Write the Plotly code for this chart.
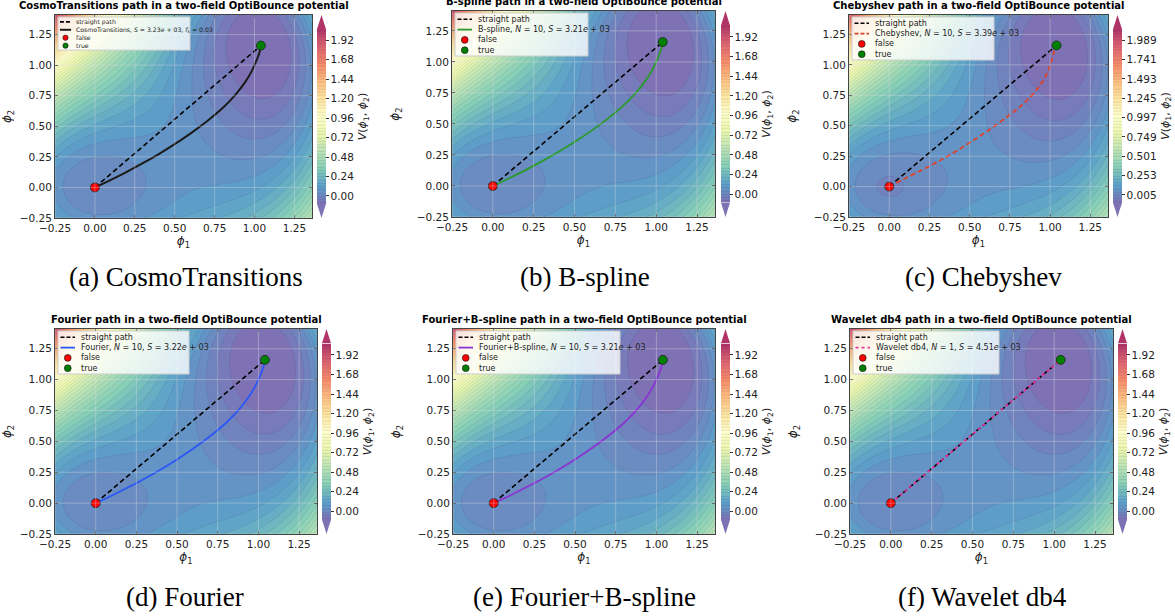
import numpy as np
import plotly.graph_objects as go

FIG_W, FIG_H = 1175, 616

# Two-field potential V(phi1, phi2) = (phi1^2 + phi2^2) * (A (phi1 - 1)^2 + B (phi2 - 1)^2 - DELTA)
A_COEF = 0.624
B_COEF = 0.174
DELTA = 0.0637

PHI1_LIM = [-0.25, 1.36]
PHI2_LIM = [-0.25, 1.41]

phi1_grid = np.linspace(PHI1_LIM[0], PHI1_LIM[1], 162)
phi2_grid = np.linspace(PHI2_LIM[0], PHI2_LIM[1], 167)
P1, P2 = np.meshgrid(phi1_grid, phi2_grid)
V = (P1 ** 2 + P2 ** 2) * (A_COEF * (P1 - 1) ** 2 + B_COEF * (P2 - 1) ** 2 - DELTA)
V = np.round(V, 4)

false_vacuum = [0.0, 0.0]
true_vacuum = [1.04, 1.16]

straight_phi1 = [0.0, 1.04]
straight_phi2 = [0.0, 1.16]

# optimised tunnelling paths (phi1, phi2)
cosmo_phi1 = [0.00, 0.10, 0.20, 0.30, 0.40, 0.50, 0.60, 0.70, 0.80, 0.88, 0.94, 0.98, 1.01, 1.03, 1.04]
cosmo_phi2 = [0.00, 0.062, 0.128, 0.198, 0.273, 0.354, 0.442, 0.539, 0.649, 0.757, 0.859, 0.945, 1.03, 1.10, 1.16]

bspline_phi1 = [0.00, 0.10, 0.20, 0.30, 0.40, 0.50, 0.60, 0.70, 0.80, 0.88, 0.94, 0.98, 1.01, 1.03, 1.04]
bspline_phi2 = [0.00, 0.062, 0.128, 0.198, 0.273, 0.354, 0.442, 0.539, 0.649, 0.757, 0.859, 0.945, 1.03, 1.10, 1.16]

cheb_phi1 = [0.00, 0.08, 0.25, 0.37, 0.50, 0.62, 0.75, 0.85, 0.93, 0.985, 1.01, 1.025, 1.04]
cheb_phi2 = [0.00, 0.055, 0.168, 0.255, 0.36, 0.465, 0.59, 0.70, 0.82, 0.94, 1.04, 1.11, 1.16]

fourier_phi1 = [0.00, 0.10, 0.20, 0.30, 0.40, 0.50, 0.60, 0.70, 0.80, 0.88, 0.94, 0.98, 1.01, 1.03, 1.04]
fourier_phi2 = [0.00, 0.062, 0.128, 0.198, 0.273, 0.354, 0.442, 0.539, 0.649, 0.757, 0.859, 0.945, 1.03, 1.10, 1.16]

fbspline_phi1 = [0.00, 0.10, 0.20, 0.30, 0.40, 0.50, 0.60, 0.70, 0.80, 0.88, 0.94, 0.98, 1.01, 1.03, 1.04]
fbspline_phi2 = [0.00, 0.062, 0.128, 0.198, 0.273, 0.354, 0.442, 0.539, 0.649, 0.757, 0.859, 0.945, 1.03, 1.10, 1.16]

wavelet_phi1 = [0.00, 1.04]
wavelet_phi2 = [0.00, 1.16]

axis_ticks = [-0.25, 0.0, 0.25, 0.5, 0.75, 1.0, 1.25]
cbar_ticks = [0.00, 0.24, 0.48, 0.72, 0.96, 1.20, 1.44, 1.68, 1.92]
cheb_cbar_ticks = [0.005, 0.253, 0.501, 0.749, 0.997, 1.245, 1.493, 1.741, 1.989]

SPECTRAL = ["#9e0142", "#d53e4f", "#f46d43", "#fdae61", "#fee08b", "#ffffbf",
            "#e6f598", "#abdda4", "#66c2a5", "#3288bd", "#5e4fa2"][::-1]
ALPHA = 0.8


def faded(hexcol, a=ALPHA):
    r, g, b = (int(hexcol[i:i + 2], 16) for i in (1, 3, 5))
    return "rgb(%d,%d,%d)" % tuple(round(c * a + 255 * (1 - a)) for c in (r, g, b))


def tick_text(vals, digits):
    return [("%.*f" % (digits, v)).replace("-", "\u2212") for v in vals]


colorscale = [[i / (len(SPECTRAL) - 1), faded(c)] for i, c in enumerate(SPECTRAL)]

panels = [
    dict(title="CosmoTransitions path in a two-field OptiBounce potential", caption="(a) CosmoTransitions",
         box=(55, 312, 15, 218), cbx=317, cap_x=186, cap_y=277,
         px=cosmo_phi1, py=cosmo_phi2, color="#1a1a1a", dash="solid", width=2.0,
         label="CosmoTransitions, <i>S</i> = 3.23<i>e</i> + 03, <i>f</i><sub><i>k</i></sub> = 0.03",
         lw=132, small=True, levels=(-0.08, 2.04, 0.04), ticks=cbar_ticks, tdig=2),
    dict(title="B-spline path in a two-field OptiBounce potential", caption="(b) B-spline",
         box=(452, 715, 11, 217), cbx=721, cap_x=585, cap_y=277,
         px=bspline_phi1, py=bspline_phi2, color="#2a9a2a", dash="solid", width=1.8,
         label="B-spline, <i>N</i> = 10, <i>S</i> = 3.21<i>e</i> + 03",
         lw=133, small=False, levels=(-0.08, 2.04, 0.04), ticks=cbar_ticks, tdig=2),
    dict(title="Chebyshev path in a two-field OptiBounce potential", caption="(c) Chebyshev",
         box=(849, 1108, 15, 217), cbx=1113, cap_x=983, cap_y=277,
         px=cheb_phi1, py=cheb_phi2, color="#dc4328", dash="5px,3px", width=1.8,
         label="Chebyshev, <i>N</i> = 10, <i>S</i> = 3.39<i>e</i> + 03",
         lw=142, small=False, levels=(-0.0776, 2.1113, 0.0413), ticks=cheb_cbar_ticks, tdig=3),
    dict(title="Fourier path in a two-field OptiBounce potential", caption="(d) Fourier",
         box=(55, 317, 329, 534), cbx=322, cap_x=185, cap_y=597,
         px=fourier_phi1, py=fourier_phi2, color="#2b57f5", dash="solid", width=1.8,
         label="Fourier, <i>N</i> = 10, <i>S</i> = 3.22<i>e</i> + 03",
         lw=131, small=False, levels=(-0.08, 2.04, 0.04), ticks=cbar_ticks, tdig=2),
    dict(title="Fourier+B-spline path in a two-field OptiBounce potential", caption="(e) Fourier+B-spline",
         box=(453, 715, 329, 534), cbx=721, cap_x=584, cap_y=597,
         px=fbspline_phi1, py=fbspline_phi2, color="#8a34d2", dash="solid", width=1.8,
         label="Fourier+B-spline, <i>N</i> = 10, <i>S</i> = 3.21<i>e</i> + 03",
         lw=164, small=False, levels=(-0.08, 2.04, 0.04), ticks=cbar_ticks, tdig=2),
    dict(title="Wavelet db4 path in a two-field OptiBounce potential", caption="(f) Wavelet db4",
         box=(850, 1113, 329, 534), cbx=1118, cap_x=982, cap_y=597,
         px=wavelet_phi1, py=wavelet_phi2, color="#e5309c", dash="dot", width=1.8,
         label="Wavelet db4, <i>N</i> = 1, <i>S</i> = 4.51<i>e</i> + 03",
         lw=146, small=False, levels=(-0.08, 2.04, 0.04), ticks=cbar_ticks, tdig=2),
]


def fx(px):
    return px / FIG_W


def fy(py):
    return 1 - py / FIG_H


fig = go.Figure()
layout = {}
shapes = []
annotations = []
SANS = "DejaVu Sans"

for i, p in enumerate(panels):
    n = "" if i == 0 else str(i + 1)
    xa, ya = "x" + n, "y" + n
    L, R, T, B = p["box"]
    h = B - T
    start, end, size = p["levels"]

    # colorbar geometry: bar between the two extension triangles
    tri = 0.07 * h
    bar_top, bar_bot = T + tri, B - tri
    cb_w = 9

    fig.add_trace(go.Contour(
        x=phi1_grid, y=phi2_grid, z=V, xaxis=xa, yaxis=ya,
        colorscale=colorscale, autocontour=False,
        contours=dict(start=start, end=end, size=size, coloring="fill", showlines=True),
        line=dict(width=0.5, color="rgba(50,50,90,0.22)", smoothing=1),
        showscale=True,
        colorbar=dict(
            x=fx(p["cbx"]), xanchor="left", xref="paper",
            y=fy((bar_top + bar_bot) / 2), yanchor="middle", yref="paper",
            len=(bar_bot - bar_top) / FIG_H, lenmode="fraction",
            thickness=cb_w, thicknessmode="pixels", xpad=0, ypad=0,
            outlinewidth=0, ticks="outside", ticklen=3, tickcolor="#333",
            tickvals=p["ticks"], ticktext=tick_text(p["ticks"], p["tdig"]),
            tickfont=dict(family=SANS, size=10.5, color="#222"),
            title=dict(text="<i>V</i>(<i>ϕ</i><sub>1</sub>, <i>ϕ</i><sub>2</sub>)", side="right",
                       font=dict(family=SANS, size=11, color="#222")),
        ),
        hoverinfo="skip",
    ))

    # straight reference path
    fig.add_trace(go.Scatter(x=straight_phi1, y=straight_phi2, xaxis=xa, yaxis=ya, mode="lines",
                             line=dict(color="black", width=1.6, dash="5px,3px"), showlegend=False))
    # optimised path
    fig.add_trace(go.Scatter(x=p["px"], y=p["py"], xaxis=xa, yaxis=ya, mode="lines",
                             line=dict(color=p["color"], width=p["width"], dash=p["dash"],
                                       shape="spline", smoothing=1.0), showlegend=False))
    # vacua
    fig.add_trace(go.Scatter(x=[false_vacuum[0]], y=[false_vacuum[1]], xaxis=xa, yaxis=ya, mode="markers",
                             marker=dict(color="red", size=9, line=dict(color="#222", width=0.8)),
                             showlegend=False))
    fig.add_trace(go.Scatter(x=[true_vacuum[0]], y=[true_vacuum[1]], xaxis=xa, yaxis=ya, mode="markers",
                             marker=dict(color="green", size=9, line=dict(color="#222", width=0.8)),
                             showlegend=False))

    ax_common = dict(showline=True, mirror="ticks", linecolor="#444", linewidth=1, automargin=False,
                     ticks="inside", ticklen=3, tickcolor="#444", showgrid=False, zeroline=False,
                     tickvals=axis_ticks, ticktext=tick_text(axis_ticks, 2),
                     tickfont=dict(family=SANS, size=10.5, color="#222"))
    layout["xaxis" + n] = dict(ax_common, domain=[fx(L), fx(R)], range=PHI1_LIM, anchor=ya,
                               title=dict(text="<i>ϕ</i><sub>1</sub>", standoff=4,
                                          font=dict(family=SANS, size=12, color="#222")))
    layout["yaxis" + n] = dict(ax_common, domain=[fy(B), fy(T)], range=PHI2_LIM, anchor=xa,
                               title=dict(text="<i>ϕ</i><sub>2</sub>", standoff=14,
                                          font=dict(family=SANS, size=12, color="#222")))

    # faint grid over the filled contours
    for t in axis_ticks:
        shapes.append(dict(type="line", xref=xa, yref=ya + " domain", x0=t, x1=t, y0=0, y1=1,
                           line=dict(color="rgba(225,225,225,0.45)", width=0.8), layer="above"))
        shapes.append(dict(type="line", xref=xa + " domain", yref=ya, x0=0, x1=1, y0=t, y1=t,
                           line=dict(color="rgba(225,225,225,0.45)", width=0.8), layer="above"))

    # colorbar extension triangles
    cx0, cx1 = p["cbx"], p["cbx"] + cb_w
    cmid = (cx0 + cx1) / 2
    shapes.append(dict(type="path", xref="paper", yref="paper",
                       path="M %f %f L %f %f L %f %f Z" % (fx(cx0), fy(bar_top), fx(cx1), fy(bar_top), fx(cmid), fy(T)),
                       fillcolor=faded(SPECTRAL[-1]), line=dict(width=0)))
    shapes.append(dict(type="path", xref="paper", yref="paper",
                       path="M %f %f L %f %f L %f %f Z" % (fx(cx0), fy(bar_bot), fx(cx1), fy(bar_bot), fx(cmid), fy(B)),
                       fillcolor=faded(SPECTRAL[0]), line=dict(width=0)))

    # panel title and caption
    annotations.append(dict(text="<b>%s</b>" % p["title"], xref="paper", yref="paper",
                            x=fx((L + R) / 2), y=fy(T - 2), xanchor="center", yanchor="bottom",
                            showarrow=False, font=dict(family=SANS, size=10, color="black")))
    annotations.append(dict(text=p["caption"], xref="paper", yref="paper",
                            x=fx(p["cap_x"]), y=fy(p["cap_y"]), xanchor="center", yanchor="middle",
                            showarrow=False, font=dict(family="Liberation Serif", size=27, color="black")))

    # legend box
    s = 0.77 if p["small"] else 1.0
    bx, by = L + 3, T + 2
    bh = 43 * s
    shapes.append(dict(type="rect", xref="paper", yref="paper", x0=fx(bx), x1=fx(bx + p["lw"]),
                       y0=fy(by + bh), y1=fy(by), fillcolor="rgba(255,255,255,0.8)",
                       line=dict(color="rgba(205,205,205,1)", width=1)))
    rows = [by + (6.3 + 10.3 * k) * s for k in range(4)]
    lx0, lx1 = bx + 2.5 * s, bx + 17 * s
    tx = bx + 21 * s
    fsize = 8 * s
    shapes.append(dict(type="line", xref="paper", yref="paper", x0=fx(lx0), x1=fx(lx1), y0=fy(rows[0]), y1=fy(rows[0]),
                       line=dict(color="black", width=1.6, dash="4px,2px")))
    shapes.append(dict(type="line", xref="paper", yref="paper", x0=fx(lx0), x1=fx(lx1), y0=fy(rows[1]), y1=fy(rows[1]),
                       line=dict(color=p["color"], width=p["width"],
                                 dash="4px,2px" if p["dash"] != "solid" and p["dash"] != "dot" else p["dash"])))
    mr = 3.4 * s
    mc = (lx0 + lx1) / 2
    for row, col in ((rows[2], "red"), (rows[3], "green")):
        shapes.append(dict(type="circle", xref="paper", yref="paper", x0=fx(mc - mr), x1=fx(mc + mr),
                           y0=fy(row + mr), y1=fy(row - mr), fillcolor=col, line=dict(color="#222", width=0.7)))
    for row, txt in zip(rows, ["straight path", p["label"], "false", "true"]):
        annotations.append(dict(text=txt, xref="paper", yref="paper", x=fx(tx), y=fy(row),
                                xanchor="left", yanchor="middle", showarrow=False,
                                font=dict(family=SANS, size=fsize, color="#222")))

layout.update(
    template="none",
    width=FIG_W, height=FIG_H, autosize=False,
    margin=dict(l=0, r=0, t=0, b=0, autoexpand=False),
    paper_bgcolor="white", plot_bgcolor="white",
    showlegend=False, shapes=shapes, annotations=annotations,
)
fig.update_layout(**layout)
fig.write_html("out.html")
